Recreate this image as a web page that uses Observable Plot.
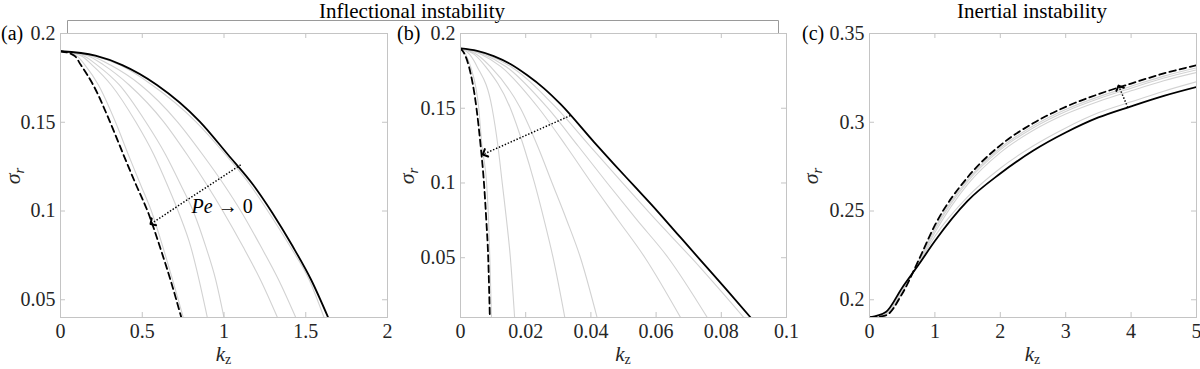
<!DOCTYPE html>
<html><head><meta charset="utf-8">
<script src="https://cdn.jsdelivr.net/npm/d3@7"></script>
<script src="https://cdn.jsdelivr.net/npm/@observablehq/plot@0.6"></script>
<style>
html,body{margin:0;padding:0;background:#fff;}
#wrap{position:relative;width:1200px;height:369px;overflow:hidden;}
#row{display:flex;position:absolute;left:0;top:0;}
#row svg{overflow:visible;display:block;}
#over{position:absolute;left:0;top:0;pointer-events:none;}
</style></head><body>
<div id="wrap">
<div id="row"></div>
<svg id="over" width="1200" height="369">
 <g font-family="'Liberation Serif', serif">
  <text x="412" y="18" text-anchor="middle" font-size="21" fill="#000">Inflectional instability</text>
  <text x="1032" y="18" text-anchor="middle" font-size="21" fill="#000">Inertial instability</text>
  <path d="M67.5,33V20.5H778.5V33" fill="none" stroke="#9a9a9a" stroke-width="1"/>
  <text x="1" y="40" font-size="20" fill="#000">(a)</text>
  <text x="397" y="40" font-size="20" fill="#000">(b)</text>
  <text x="802" y="40" font-size="20" fill="#000">(c)</text>
  <text x="223.5" y="361" text-anchor="middle" font-size="21" fill="#262626"><tspan font-style="italic">k</tspan><tspan font-size="14" dy="3">z</tspan></text>
  <text x="623" y="361" text-anchor="middle" font-size="21" fill="#262626"><tspan font-style="italic">k</tspan><tspan font-size="14" dy="3">z</tspan></text>
  <text x="1032.5" y="361" text-anchor="middle" font-size="21" fill="#262626"><tspan font-style="italic">k</tspan><tspan font-size="14" dy="3">z</tspan></text>
  <text transform="translate(20,176) rotate(-90)" text-anchor="middle" font-size="22" fill="#262626"><tspan font-style="italic">σ</tspan><tspan font-style="italic" font-size="15" dy="4">r</tspan></text>
  <text transform="translate(414,176) rotate(-90)" text-anchor="middle" font-size="22" fill="#262626"><tspan font-style="italic">σ</tspan><tspan font-style="italic" font-size="15" dy="4">r</tspan></text>
  <text transform="translate(818,176) rotate(-90)" text-anchor="middle" font-size="22" fill="#262626"><tspan font-style="italic">σ</tspan><tspan font-style="italic" font-size="15" dy="4">r</tspan></text>
 </g>
</svg>
</div>
<script>
// ---------- Panel (a): inflectional instability ----------
const sigA      = [0.19, 0.1875, 0.1822, 0.171, 0.1504, 0.1317, 0.1148, 0.0989, 0.0801, 0.0614, 0.04];
const kSolidA   = [0, 0.214, 0.378, 0.590, 0.852, 1.025, 1.178, 1.296, 1.420, 1.532, 1.637];
const kDashedA  = [0, 0.085, 0.125, 0.200, 0.302, 0.385, 0.462, 0.537, 0.607, 0.672, 0.739];
const kGrayA1   = [0, 0.098, 0.150, 0.232, 0.335, 0.415, 0.490, 0.560, 0.625, 0.685, 0.751];
const kGrayA2   = [0, 0.125, 0.194, 0.310, 0.459, 0.571, 0.653, 0.724, 0.796, 0.847, 0.898];
const kGrayA3   = [0, 0.140, 0.224, 0.360, 0.520, 0.643, 0.735, 0.816, 0.888, 0.949, 1.000];
const kGrayA4   = [0, 0.165, 0.265, 0.420, 0.630, 0.775, 0.895, 1.000, 1.115, 1.222, 1.327];
const kGrayA5   = [0, 0.185, 0.306, 0.490, 0.714, 0.870, 1.000, 1.110, 1.225, 1.333, 1.439];
const kGrayA6   = [0, 0.205, 0.363, 0.560, 0.827, 1.010, 1.159, 1.276, 1.404, 1.520, 1.612];
const arrowA    = {k1: 1.102, s1: 0.126, k2: 0.561, s2: 0.0933};
const labelA    = {k: 0.943, s: 0.1024};
const peText    = ["Pe", "→ 0"];
const xTicksA   = [0, 0.5, 1, 1.5, 2];
const yTicksA   = [0.05, 0.1, 0.15, 0.2];

// ---------- Panel (b): inflectional instability ----------
const sigB      = [0.19, 0.186, 0.1778, 0.15, 0.1244, 0.1, 0.0756, 0.05, 0.01];
const kDashedB  = [0, 0.0013, 0.0026, 0.0049, 0.0062, 0.0072, 0.0079, 0.0085, 0.0090];
const kGrayB1   = [0, 0.0016, 0.0031, 0.0056, 0.0066, 0.0080, 0.0086, 0.0090, 0.0095];
const kGrayB2   = [0, 0.0028, 0.0051, 0.0097, 0.0115, 0.0128, 0.0141, 0.0153, 0.0166];
const kGrayB3   = [0, 0.0042, 0.0077, 0.0153, 0.0194, 0.0227, 0.0256, 0.0284, 0.0320];
const kGrayB4   = [0, 0.0050, 0.0092, 0.0184, 0.0237, 0.0281, 0.0325, 0.0368, 0.0419];
const kGrayB5   = [0, 0.0064, 0.0124, 0.0240, 0.0325, 0.0402, 0.0482, 0.0566, 0.0675];
const kGrayB6   = [0, 0.0072, 0.0140, 0.0268, 0.0362, 0.0450, 0.0540, 0.0637, 0.0757];
const kGrayB7   = [0, 0.0080, 0.0155, 0.0295, 0.0398, 0.0497, 0.0598, 0.0708, 0.0869];
const kSolidB   = [0, 0.0051, 0.0102, 0.0153, 0.0204, 0.0256, 0.0307, 0.0409, 0.0470, 0.0532, 0.0603, 0.0665, 0.0736, 0.0818, 0.0890];
const sSolidB   = [0.19, 0.1884, 0.1849, 0.1796, 0.1722, 0.1633, 0.1527, 0.1275, 0.1128, 0.0982, 0.0814, 0.0660, 0.0484, 0.0282, 0.0100];
const arrowB    = {k1: 0.0337, s1: 0.1451, k2: 0.0074, s2: 0.1196};
const xTicksB   = [0, 0.02, 0.04, 0.06, 0.08, 0.1];
const yTicksB   = [0.05, 0.1, 0.15, 0.2];

// ---------- Panel (c): inertial instability ----------
const kC        = [0, 0.25, 0.5, 0.75, 1, 1.5, 2, 2.5, 3, 3.5, 4, 4.5, 5];
const sSolidC   = [0.19, 0.1931, 0.2068, 0.2197, 0.2331, 0.2557, 0.2711, 0.2839, 0.2942, 0.3027, 0.3090, 0.3149, 0.3199];
const sDashedC  = [0.19, 0.1912, 0.2034, 0.2222, 0.2420, 0.2690, 0.2870, 0.2994, 0.3087, 0.3158, 0.3218, 0.3275, 0.3321];
const sGrayC1   = [0.19, 0.1915, 0.2040, 0.2217, 0.2405, 0.2676, 0.2855, 0.2979, 0.3072, 0.3143, 0.3203, 0.3260, 0.3306];
const sGrayC2   = [0.19, 0.1918, 0.2045, 0.2213, 0.2394, 0.2665, 0.2844, 0.2968, 0.3061, 0.3132, 0.3192, 0.3249, 0.3295];
const sGrayC3   = [0.19, 0.1921, 0.2050, 0.2208, 0.2379, 0.2650, 0.2829, 0.2953, 0.3046, 0.3117, 0.3177, 0.3234, 0.3280];
const sGrayC4   = [0.19, 0.1926, 0.2060, 0.2202, 0.2358, 0.2580, 0.2741, 0.2866, 0.2968, 0.3053, 0.3115, 0.3175, 0.3228];
const arrowC    = {k1: 3.95, s1: 0.3083, k2: 3.82, s2: 0.3196};
const xTicksC   = [0, 1, 2, 3, 4, 5];
const yTicksC   = [0.2, 0.25, 0.3, 0.35];

// ---------- helpers ----------
const rows = (ks, ss, id) => ks.map((k, i) => ({k, s: ss[i], id}));
const BOX = "#c4c4c4";
const FONT = "Liberation Serif";
const CURVE = "monotone-x";

function panel({xDomain, yDomain, xTicks, yTicks, grays, dashed, solid, arrow, ml, mr, extra = []}) {
  const W = 400, H = 369, mt = 33, mb = 52;
  const iw = W - ml - mr, ih = H - mt - mb, t = 5;
  const svg = Plot.plot({
    width: W, height: H, marginLeft: ml, marginRight: mr, marginTop: mt, marginBottom: mb,
    style: {background: "transparent", overflow: "visible"},
    x: {domain: xDomain, axis: null},
    y: {domain: yDomain, axis: null},
    marks: [
      Plot.line(grays, {x: "k", y: "s", z: "id", stroke: "#d2d2d2", strokeWidth: 1.1, curve: CURVE, clip: true}),
      Plot.line(dashed, {x: "k", y: "s", stroke: "#000", strokeWidth: 1.8, strokeDasharray: "6.5,4", curve: CURVE, clip: true}),
      Plot.line(solid, {x: "k", y: "s", stroke: "#000", strokeWidth: 1.8, curve: CURVE, clip: true}),
      Plot.link([arrow], {x1: "k1", y1: "s1", x2: "k2", y2: "s2", stroke: "#000", strokeWidth: 1.5, strokeDasharray: "1.4,1.8", markerEnd: "arrow"}),
      ...extra,
      Plot.frame({stroke: BOX, strokeWidth: 1}),
      Plot.tickX(xTicks, {x: d => d, insetTop: ih - t, stroke: BOX}),
      Plot.tickX(xTicks, {x: d => d, insetBottom: ih - t, stroke: BOX}),
      Plot.tickY(yTicks, {y: d => d, insetRight: iw - t, stroke: BOX}),
      Plot.tickY(yTicks, {y: d => d, insetLeft: iw - t, stroke: BOX}),
      Plot.text(xTicks, {x: d => d, text: d => String(d), frameAnchor: "bottom", dy: 20, fontFamily: FONT, fontSize: 20, fill: "#262626"}),
      Plot.text(yTicks, {y: d => d, text: d => String(d), frameAnchor: "left", textAnchor: "end", dx: -5, fontFamily: FONT, fontSize: 20, fill: "#262626"})
    ]
  });
  svg.querySelectorAll("marker").forEach(m => {
    m.setAttribute("stroke-dasharray", "none");
    m.setAttribute("markerWidth", "9");
    m.setAttribute("markerHeight", "9");
  });
  return svg;
}

const graysA = [kGrayA1, kGrayA2, kGrayA3, kGrayA4, kGrayA5, kGrayA6].flatMap((ks, i) => rows(ks, sigA, "g" + i));
const graysB = [kGrayB1, kGrayB2, kGrayB3, kGrayB4, kGrayB5, kGrayB6, kGrayB7].flatMap((ks, i) => rows(ks, sigB, "g" + i));
const graysC = [sGrayC1, sGrayC2, sGrayC3, sGrayC4].flatMap((ss, i) => rows(kC, ss, "g" + i));

const pA = panel({
  xDomain: [0, 2], yDomain: [0.04, 0.2], xTicks: xTicksA, yTicks: yTicksA,
  grays: graysA, dashed: rows(kDashedA, sigA, "d"), solid: rows(kSolidA, sigA, "s"),
  arrow: arrowA, ml: 60, mr: 13,
  extra: [
    Plot.text([labelA], {x: "k", y: "s", text: () => peText[0], fontStyle: "italic", textAnchor: "end", dx: -2, fontFamily: FONT, fontSize: 20, fill: "#000"}),
    Plot.text([labelA], {x: "k", y: "s", text: () => peText[1], textAnchor: "start", dx: 3, fontFamily: FONT, fontSize: 20, fill: "#000"})
  ]
});
const pB = panel({
  xDomain: [0, 0.1], yDomain: [0.01, 0.2], xTicks: xTicksB, yTicks: yTicksB,
  grays: graysB, dashed: rows(kDashedB, sigB, "d"), solid: rows(kSolidB, sSolidB, "s"),
  arrow: arrowB, ml: 60, mr: 14
});
const pC = panel({
  xDomain: [0, 5], yDomain: [0.19, 0.35], xTicks: xTicksC, yTicks: yTicksC,
  grays: graysC, dashed: rows(kC, sDashedC, "d"), solid: rows(kC, sSolidC, "s"),
  arrow: arrowC, ml: 69, mr: 4
});
const row = document.getElementById("row");
row.append(pA, pB, pC);
</script>
</body></html>
